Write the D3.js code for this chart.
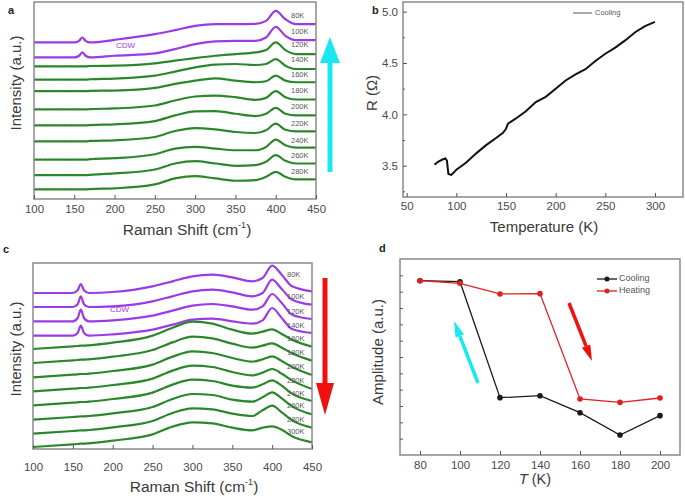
<!DOCTYPE html>
<html><head><meta charset="utf-8">
<script src="https://cdn.jsdelivr.net/npm/d3@7"></script>
<style>
body{margin:0;background:#fff;}
svg text{font-family:"Liberation Sans",Arial,sans-serif;}
</style></head><body>
<svg id="c" width="685" height="498"></svg>
<script>
// ---------- DATA ----------
const ramanX = [100,150,156,160,164,170,200,250,275,300,325,350,375,388,400,412,425,450];

// Panel a (warming sequence, intensities in a.u., offset curves)
const aLabels = ["80K","100K","120K","140K","160K","180K","200K","220K","240K","260K","280K"];
const aPhase  = ["cdw","cdw","n","n","n","n","n","n","n","n","n"];
const aSpectra = [
 [472,472,477,487,477,472,480,497,509,522,527,527,528,537,567,542,527,527],
 [427,427,432,442,432,427,432,439,452,467,475,477,477,487,519,492,479,479],
 [400,400,400,400,400,401,402,409,417,425,432,437,442,449,472,449,437,437],
 [360,360,360,360,360,361,363,372,384,397,405,407,404,407,422,402,392,392],
 [325,325,325,325,325,326,327,335,347,357,364,357,352,355,372,357,352,352],
 [270,270,270,270,270,271,273,282,297,309,312,307,299,305,325,307,300,300],
 [222,222,222,222,222,223,225,235,252,264,265,257,250,257,275,257,252,252],
 [174,174,174,174,174,175,177,187,205,214,210,202,199,207,227,209,204,204],
 [119,119,119,119,119,120,123,135,152,157,152,147,147,157,179,162,155,155],
 [72,72,72,72,72,73,77,89,107,114,107,100,102,112,132,115,107,107],
 [29,29,29,29,29,30,32,44,62,69,62,55,57,67,82,67,59,59]
];
const aLabelLevel = [552,502,464,420,375,325,277,227,175,131,80];

// Panel c (cooling sequence)
const cLabels = ["80K","100K","120K","140K","160K","180K","200K","220K","240K","260K","280K","300K"];
const cPhase  = ["cdw","cdw","cdw","cdw","n","n","n","n","n","n","n","n"];
const cSpectra = [
 [468,468,476,495,476,468,471,488,503,518,523,515,503,513,550,523,488,473],
 [426,426,434,458,434,426,428,443,458,473,478,470,458,468,508,480,448,433],
 [383,383,393,418,393,383,386,400,415,430,435,428,418,428,465,438,403,390],
 [340,340,348,370,348,340,344,358,373,388,391,383,376,386,423,393,360,348],
 [300,308,309,310,310,311,319,340,364,382,376,358,346,352,359,345,328,307],
 [258,266,267,268,268,269,277,297,320,337,332,316,304,310,317,304,287,265],
 [215,223,224,225,225,226,234,253,277,293,288,273,262,269,278,264,246,222],
 [173,181,182,183,183,184,192,211,235,250,246,231,221,229,240,226,206,180],
 [131,139,140,141,141,142,150,169,193,208,204,190,184,194,206,190,166,144],
 [88,96,97,98,98,99,107,126,150,165,162,148,142,155,170,152,128,104],
 [46,54,55,56,56,57,65,84,108,122,119,106,99,116,130,110,86,64],
 [6,14,15,16,16,17,25,44,67,80,77,64,56,64,68,58,38,20]
];
const cLabelLevel = [523,455,412,370,330,288,246,204,166,130,88,50];

// Panel b: resistance vs temperature (cooling)
const bTemp = [78,82,86,89,90.5,92,95,100,110,120,130,140,147,150,152,160,170,180,190,200,210,220,230,240,250,260,270,280,290,300];
const bRes  = [3.51,3.54,3.56,3.57,3.55,3.42,3.41,3.46,3.53,3.62,3.70,3.77,3.82,3.86,3.91,3.96,4.03,4.12,4.17,4.25,4.33,4.39,4.44,4.52,4.59,4.65,4.72,4.80,4.86,4.90];

// Panel d: CDW amplitude
const dTemp    = [80,100,120,140,160,180,200];
const dCooling = [10.67,10.61,3.51,3.63,2.59,1.22,2.41];
const dHeating = [10.67,10.51,9.86,9.88,3.43,3.22,3.49];

// ---------- DRAW ----------
const svg = d3.select("#c");
const PURPLE="#9a3be6", GREEN="#2e8c2e", CYAN="#17e8f2", RED="#f01010";
const BOX="#8a8a8a", TICKC="#555", TXT="#3a3a3a";

function box(p){
  svg.append("rect").attr("x",p.l).attr("y",p.t).attr("width",p.r-p.l).attr("height",p.b-p.t)
    .attr("fill","none").attr("stroke",BOX).attr("stroke-width",1.5);
}
function xAxis(p,x,major,minor,pad){
  const g=svg.append("g").attr("transform",`translate(0,${p.b})`);
  g.call(d3.axisBottom(x).tickValues(minor).tickSize(-2).tickFormat(""));
  g.call(d3.axisBottom(x).tickValues(major).tickSize(-4).tickPadding(pad).tickFormat(d3.format("d")));
  g.select(".domain").remove();
  g.selectAll("line").attr("stroke",TICKC);
  g.selectAll("text").attr("fill","#4a4a4a").attr("font-size",11.5);
  return g;
}
function yTicks(p,y,vals,len){
  const g=svg.append("g").attr("transform",`translate(${p.l},0)`);
  g.call(d3.axisLeft(y).tickValues(vals).tickSize(-len).tickFormat(""));
  g.select(".domain").remove();
  g.selectAll("line").attr("stroke",TICKC);
  return g;
}
function title(x,y,txt,rot,size){
  const t=svg.append("text").attr("x",x).attr("y",y).attr("text-anchor","middle")
    .attr("dominant-baseline","middle").attr("fill",TXT).attr("font-size",size||15);
  if(rot) t.attr("transform",`rotate(-90,${x},${y})`);
  return t.text(txt);
}
function ramanTitle(x,y){
  const t=svg.append("text").attr("x",x).attr("y",y).attr("text-anchor","middle")
    .attr("dominant-baseline","middle").attr("fill",TXT).attr("font-size",15.5);
  t.append("tspan").text("Raman Shift (cm");
  t.append("tspan").text("-1").attr("font-size",9).attr("dy",-5);
  t.append("tspan").text(")").attr("dy",5);
}
function label(x,y,s){
  svg.append("text").attr("x",x).attr("y",y).attr("fill","#222").attr("font-size",11).attr("font-weight","bold").text(s);
}
function arrowV(x,y0,y1,headLen,headW,shaftW,col){
  const dir = y1<y0?-1:1;
  const yh = y1 - dir*headLen;
  svg.append("line").attr("x1",x).attr("x2",x).attr("y1",y0).attr("y2",yh).attr("stroke",col).attr("stroke-width",shaftW);
  svg.append("path").attr("d",`M${x-headW/2},${yh}L${x+headW/2},${yh}L${x},${y1}Z`).attr("fill",col);
}
function arrowLine(x0,y0,x1,y1,headLen,headW,shaftW,col){
  const dx=x1-x0, dy=y1-y0, L=Math.hypot(dx,dy), ux=dx/L, uy=dy/L;
  const bx=x1-ux*headLen, by=y1-uy*headLen;
  svg.append("line").attr("x1",x0).attr("y1",y0).attr("x2",bx).attr("y2",by).attr("stroke",col).attr("stroke-width",shaftW);
  svg.append("path").attr("d",`M${bx-uy*headW/2},${by+ux*headW/2}L${bx+uy*headW/2},${by-ux*headW/2}L${x1},${y1}Z`).attr("fill",col);
}

function spectraPanel(p,ydom,spectra,phase,labels,levels,padX,cdwPos){
  const x=d3.scaleLinear().domain([100,450]).range([p.l,p.r]);
  const y=d3.scaleLinear().domain(ydom).range([p.b,p.t]);
  const line=d3.line().x((d,i)=>x(ramanX[i])).y(d=>y(d)).curve(d3.curveMonotoneX);
  spectra.forEach((s,i)=>{
    const col = phase[i]==="cdw"?PURPLE:GREEN;
    svg.append("path").attr("d",line(s)).attr("fill","none").attr("stroke",col).attr("stroke-width",2.2);
    if(phase[i]!=="cdw") svg.append("path").attr("d",line(s)).attr("fill","none").attr("stroke","#1f5a1f").attr("stroke-width",0.5).attr("stroke-dasharray","3,2").attr("opacity",0.6);
  });
  labels.forEach((t,i)=>{
    svg.append("text").attr("x",p.r-25).attr("y",y(levels[i])).attr("dominant-baseline","middle")
      .attr("font-size",7.5).attr("fill","#555").text(t);
  });
  svg.append("text").attr("x",cdwPos[0]).attr("y",cdwPos[1]).attr("dominant-baseline","middle")
    .attr("font-size",8).attr("fill",PURPLE).text("CDW");
  box(p);
  xAxis(p,x,d3.range(100,451,50),d3.range(125,450,50),padX);
  return {x,y};
}

// Panel a
const pa={l:34,r:316,t:2,b:199};
spectraPanel(pa,[0,594],aSpectra,aPhase,aLabels,aLabelLevel,6,[116,46]);
ramanTitle(187,231);
title(17,83,"Intensity (a.u.)",true);
arrowV(330,172,37,26,20,5,CYAN);
label(8,14,"a");

// Panel c
const pc={l:33,r:312,t:263,b:449};
spectraPanel(pc,[0,558],cSpectra,cPhase,cLabels,cLabelLevel,14,[110,310]);
ramanTitle(194,488);
title(17,349,"Intensity (a.u.)",true);
arrowV(325,278,415,32,18,5,RED);
label(3,253,"c");

// Panel b
const pb={l:403,r:683,t:2,b:197};
{
  const x=d3.scaleLinear().domain([46.3,328.2]).range([pb.l,pb.r]);
  const y=d3.scaleLinear().domain([3.195,5.094]).range([pb.b,pb.t]);
  const line=d3.line().x((d,i)=>x(bTemp[i])).y(d=>y(d));
  svg.append("path").attr("d",line(bRes)).attr("fill","none").attr("stroke","#111").attr("stroke-width",2);
  box(pb);
  xAxis(pb,x,d3.range(50,301,50),d3.range(75,326,50),5);
  yTicks(pb,y,[3.25,3.75,4.25,4.75],2);
  const gy=svg.append("g").attr("transform",`translate(${pb.l},0)`);
  gy.call(d3.axisLeft(y).tickValues([3.5,4.0,4.5,5.0]).tickSize(-4).tickPadding(5).tickFormat(d3.format(".1f")));
  gy.select(".domain").remove();
  gy.selectAll("line").attr("stroke",TICKC);
  gy.selectAll("text").attr("fill","#4a4a4a").attr("font-size",11.5);
  // legend
  svg.append("line").attr("x1",573).attr("x2",592).attr("y1",13).attr("y2",13).attr("stroke","#555").attr("stroke-width",1);
  svg.append("text").attr("x",595).attr("y",13).attr("dominant-baseline","middle").attr("font-size",7.5).attr("fill","#555").text("Cooling");
  title(544,228,"Temperature (K)");
  title(373,93,"R (Ω)",true);
  label(372,14,"b");
}

// Panel d
const pd={l:400,r:680,t:259,b:455};
{
  const x=d3.scaleLinear().domain([70,210]).range([pd.l,pd.r]);
  const y=d3.scaleLinear().domain([0,12]).range([pd.b,pd.t]);
  box(pd);
  xAxis(pd,x,d3.range(80,201,20),d3.range(90,201,20),6);
  yTicks(pd,y,d3.range(1,12),3);
  const line=d3.line().x((d,i)=>x(dTemp[i])).y(d=>y(d));
  [[dCooling,"#1a1a1a"],[dHeating,"#e02020"]].forEach(([s,col])=>{
    svg.append("path").attr("d",line(s)).attr("fill","none").attr("stroke",col).attr("stroke-width",1.3);
    svg.selectAll(null).data(s).enter().append("circle")
      .attr("cx",(d,i)=>x(dTemp[i])).attr("cy",d=>y(d)).attr("r",2.8).attr("fill",col);
  });
  // legend
  [["Cooling","#1a1a1a",279],["Heating","#e02020",291]].forEach(([t,col,yy])=>{
    svg.append("line").attr("x1",597).attr("x2",617).attr("y1",yy).attr("y2",yy).attr("stroke",col).attr("stroke-width",1.3);
    svg.append("circle").attr("cx",607).attr("cy",yy).attr("r",2.5).attr("fill",col);
    svg.append("text").attr("x",619).attr("y",yy).attr("dominant-baseline","middle").attr("font-size",9).attr("fill","#555").text(t);
  });
  arrowLine(478,383,454,321,16,9,3.5,CYAN);
  arrowLine(569,303,592,361,16,9,3.5,RED);
  const t=svg.append("text").attr("x",535).attr("y",480).attr("text-anchor","middle").attr("dominant-baseline","middle").attr("fill",TXT).attr("font-size",14.5);
  t.append("tspan").attr("font-style","italic").text("T");
  t.append("tspan").text(" (K)");
  title(379,352,"Amplitude (a.u.)",true);
  label(379,252,"d");
}
</script></body></html>
